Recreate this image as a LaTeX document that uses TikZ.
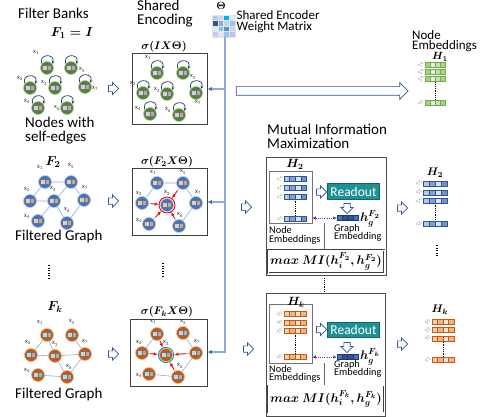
\documentclass[tikz,border=0pt]{standalone}
\usepackage{fix-cm}
\usepackage[no-math]{fontspec}
\setmainfont{Carlito}
\usepackage{amsmath}
\usetikzlibrary{arrows.meta,shapes.arrows,calc}
\definecolor{gfill}{HTML}{548235}
\definecolor{gdraw}{HTML}{A9D18E}
\definecolor{bfill}{HTML}{4472C4}
\definecolor{bdraw}{HTML}{B4C7E7}
\definecolor{ofill}{HTML}{C55A11}
\definecolor{odraw}{HTML}{F4B183}
\definecolor{edgec}{HTML}{8FAADC}
\definecolor{loopc}{HTML}{1F3864}
\definecolor{hblue}{HTML}{2F5597}
\definecolor{lblue}{HTML}{8FAADC}
\definecolor{ablue}{HTML}{4472C4}
\definecolor{tealc}{RGB}{30,145,148}
\definecolor{purp}{HTML}{7030A0}
\definecolor{eg1}{HTML}{A9D18E}\definecolor{eg2}{HTML}{E2F0D9}\definecolor{eg3}{HTML}{C5E0B4}\definecolor{egb}{HTML}{70AD47}
\definecolor{eb1}{HTML}{B4C7E7}\definecolor{eb2}{HTML}{7F9FD8}\definecolor{eb3}{HTML}{DAE3F3}\definecolor{eb4}{HTML}{6F92D2}\definecolor{ebb}{HTML}{2F5597}
\definecolor{eo1}{HTML}{F8CBAD}\definecolor{eo2}{HTML}{F4B183}\definecolor{eo3}{HTML}{FBE5D6}\definecolor{eob}{HTML}{C55A11}
\definecolor{ed1}{HTML}{2F5597}\definecolor{ed2}{HTML}{4472C4}\definecolor{edb}{HTML}{1F3864}
\definecolor{th1}{HTML}{B4C7E7}\definecolor{th2}{HTML}{BDD7EE}\definecolor{th3}{HTML}{00B0F0}\definecolor{th4}{HTML}{DEEBF7}
\definecolor{th5}{HTML}{2F5597}\definecolor{th6}{HTML}{8FAADC}\definecolor{th7}{HTML}{BDD7EE}\definecolor{th8}{HTML}{9DC3E6}
\definecolor{th9}{HTML}{DEEBF7}\definecolor{th10}{HTML}{6FD0E0}\definecolor{th11}{HTML}{5B8FD5}\definecolor{th12}{HTML}{BDD7EE}
\definecolor{th13}{HTML}{CACAF5}\definecolor{th14}{HTML}{DEEBF7}\definecolor{th15}{HTML}{9DC3E6}\definecolor{th16}{HTML}{B4C7E7}
\newcommand\fA{\fontsize{15}{16}\selectfont}
\newcommand\fB{\fontsize{13}{14}\selectfont}
\newcommand\fC{\fontsize{10.3}{11}\selectfont}
\newcounter{hlc}
\newcommand\embrow[5]{\foreach \cc [count=\ii from 0] in {#4}{\filldraw[fill=\cc,draw=#5,line width=0.35pt] ({#1+\ii*#3},{#2-2.6}) rectangle ({#1+(\ii+1)*#3},{#2+2.6});}}
\newcommand\embgrp[9]{%
 \stepcounter{hlc}%
 \embrow{#1}{#2}{#6}{#7}{#8}%
 \embrow{#1}{#3}{#6}{#7}{#8}%
 \embrow{#1}{#4}{#6}{#7}{#8}%
 \embrow{#1}{#5}{#6}{#7}{#8}%
 \node[hl] (hl\thehlc a) at ({#1-0.6},#2) {\scalebox{0.42}{$h_1^{#9}$}};
 \node[hl] (hl\thehlc b) at ({#1-0.6},#3) {\scalebox{0.42}{$h_2^{#9}$}};
 \node[hl] (hl\thehlc c) at ({#1-0.6},#4) {\scalebox{0.42}{$h_3^{#9}$}};
 \node[hl] (hl\thehlc d) at ({#1-0.6},#5) {\scalebox{0.42}{$h_n^{#9}$}};
 \draw[vd] ({#1+2*#6},{#4+3.5}) -- ({#1+2*#6},{#5-3.5});
}
\newcommand\gnodes[3]{\foreach \n/\x/\y/\lx/\ly in {#3} {\node[#2] (#1\n) at (\x,\y) {}; \node[xl] (#1l\n) at ({\x+\lx},{\y+\ly}) {x\textsubscript{\n}};}}
\begin{document}
\begin{tikzpicture}[x=1pt,y=-1pt,
  gnode/.style={circle,minimum size=13pt,inner sep=0pt,line width=0.6pt,
    path picture={
      \fill[black!55] ([shift={(-4.6pt,-2.7pt)}]path picture bounding box.center) rectangle ([shift={(4.6pt,2.7pt)}]path picture bounding box.center);
      \fill[black!18] ([shift={(-3.7pt,-1.8pt)}]path picture bounding box.center) rectangle ([shift={(-0.5pt,1.8pt)}]path picture bounding box.center);
      \fill[black!32] ([shift={(0.5pt,-1.8pt)}]path picture bounding box.center) rectangle ([shift={(3.7pt,1.8pt)}]path picture bounding box.center);}},
  gn/.style={gnode,fill=gfill,draw=gdraw},
  bn/.style={gnode,fill=bfill,draw=bdraw},
  on/.style={gnode,fill=ofill,draw=odraw},
  xl/.style={font=\fontsize{6.5}{7}\selectfont,inner sep=0pt,text=black!80},
  hl/.style={font=\fontsize{8}{8}\selectfont,anchor=east,inner sep=0pt,text=black!75},
  vd/.style={draw=black,line width=0.9pt,dash pattern=on 0.9pt off 0.9pt},
  bigdots/.style={draw=black,line width=1.2pt,dash pattern=on 1.2pt off 1.3pt},
  ed/.style={draw=edgec,line width=0.6pt},
  lp/.style={draw=loopc,line width=0.7pt,-{Stealth[length=2.8pt,width=3pt]}},
  redarr/.style={draw=red,line width=0.8pt,-{Latex[length=3.5pt,width=3.5pt]}},
  harr/.style={single arrow,draw=hblue,fill=white,line width=0.7pt,minimum height=10pt,inner sep=2.8pt,single arrow head extend=3pt},
  bigarr/.style={harr,minimum height=172pt,inner sep=4pt,single arrow head extend=4pt},
  sbox/.style={draw=black!75,line width=0.9pt,inner sep=0pt},
  mibox/.style={draw=black!70,line width=0.8pt,inner sep=0pt},
  nebox/.style={draw=black!55,line width=0.8pt,inner sep=0pt},
  readout/.style={fill=tealc,draw=tealc!70!black,line width=0.5pt,text=white,font=\fontsize{13.5}{14}\selectfont,inner sep=0pt},
  maxmi/.style={draw=black!75,line width=0.5pt,double=white,double distance=0.9pt,inner sep=0pt,font=\fontsize{12.5}{13}\selectfont},
  bl/.style={draw=lblue,line width=1.2pt},
  blarr/.style={bl,-{Latex[length=4.5pt,width=4.5pt,color=ablue]}},
  purpl/.style={draw=purp,line width=1pt,dash pattern=on 1pt off 1.2pt,{Latex[length=3.5pt,width=3.5pt]}-{Latex[length=3.5pt,width=3.5pt]}},
  sepl/.style={draw=black!60,line width=0.7pt},
  tx/.style={anchor=base west,inner sep=0pt},
  mt/.style={inner sep=0pt}
]
\useasboundingbox (0,0) rectangle (487,417);
% ---------- titles
\node[tx,font=\fA] (tfb) at (18,18.5) {Filter Banks};
\node[mt,font=\fontsize{13}{13}\selectfont] (tf1) at (72,33) {$\boldsymbol{F_1=I}$};
\node[tx,font=\fA] (tnw1) at (25,128) {Nodes with};
\node[tx,font=\fA] (tnw2) at (25,141.5) {self-edges};
\node[mt,font=\fontsize{13}{13}\selectfont] (tf2) at (53,162) {$\boldsymbol{F_2}$};
\node[tx,font=\fA] (tfg2) at (15,240) {Filtered Graph};
\node[mt,font=\fontsize{13}{13}\selectfont] (tfk) at (55,307) {$\boldsymbol{F_k}$};
\node[tx,font=\fA] (tfgk) at (15,398) {Filtered Graph};
\node[tx,font=\fA] (tse1) at (137,10.5) {Shared};
\node[tx,font=\fA] (tse2) at (137,25) {Encoding};
\node[mt,font=\fontsize{10.5}{11}\selectfont] (tth) at (221,6) {$\boldsymbol{\Theta}$};
\node[tx,font=\fB] (tsw1) at (236.5,20) {Shared Encoder};
\node[tx,font=\fB] (tsw2) at (236.5,31) {Weight Matrix};
\node[tx,font=\fA] (tmi1) at (267,135) {Mutual Information};
\node[tx,font=\fA] (tmi2) at (267,148.5) {Maximization};
\node[tx,font=\fB] (tne1) at (412,39.3) {Node};
\node[tx,font=\fB] (tne2) at (412,49.3) {Embeddings};
% ---------- theta matrix
\node[minimum width=23pt,minimum height=22pt,inner sep=0pt] (theta) at (223.5,26) {};
\foreach \cc [count=\i from 0] in {th1,th2,th3,th4,th5,th6,th7,th8,th9,th10,th11,th12,th13,th14,th15,th16}{
  \pgfmathtruncatemacro\cx{mod(\i,4)}\pgfmathtruncatemacro\cy{floor(\i/4)}
  \filldraw[fill=\cc,draw=white!80!gray,line width=0.3pt] ({212+\cx*5.75},{15+\cy*5.5}) rectangle ++(5.75,5.5);}
% ---------- sigma boxes
\node[sbox,minimum width=75pt,minimum height=71pt] (box1) at (169.5,88.5) {};
\node[sbox,minimum width=75pt,minimum height=67pt] (box2) at (169.5,201.5) {};
\node[sbox,minimum width=77pt,minimum height=67pt] (box3) at (168.5,352.5) {};
\node[mt,font=\fontsize{11}{12}\selectfont] (sg1) at (164,47) {$\boldsymbol{\sigma(IX\Theta)}$};
\node[mt,font=\fontsize{11}{12}\selectfont] (sg2) at (167,162) {$\boldsymbol{\sigma(F_2X\Theta)}$};
\node[mt,font=\fontsize{11}{12}\selectfont] (sg3) at (167,312) {$\boldsymbol{\sigma(F_kX\Theta)}$};
% ---------- graphs
\gnodes{g}{gn}{1/47/68/-11/-16, 5/71/68/11/2, 2/30/88/-10/-10, 3/55/88/-11/-5, 7/85/87/10/1, 4/38/108/-11/-7, 6/67/108/-10/0}
\gnodes{h}{gn}{1/157/73/-9/-16, 5/183/73/10/4, 2/143/93/-10/-10, 3/167/94/-10/-4, 7/196/93/2/9, 4/150/114/-12/-6, 6/179/115/-11/-5}
\foreach \n in {1,...,7}{
  \draw[lp] (g\n.140) .. controls +(110:11pt) and +(70:11pt) .. (g\n.40);
  \draw[lp] (h\n.140) .. controls +(110:11pt) and +(70:11pt) .. (h\n.40);}
\gnodes{p}{bn}{1/45/182/-5/-15, 5/71/182/0/-16, 2/30/201/-3/-12, 3/54/201/-1/-12, 7/84/200/1/-13, 4/38/221/-11/-5, 6/67/223/0/-13}
\gnodes{q}{bn}{1/157/183/-4/-11, 5/183/183/0/-11, 2/142/203/-3/-10, 3/167/205/0/-12, 7/196/203/2/-11, 4/149/224/-10/-4, 6/179/226/1/-11}
\foreach \a in {p,q}{
  \draw[ed] (\a1)--(\a5) (\a1)--(\a2) (\a5)--(\a3) (\a5)--(\a7) (\a2)--(\a3) (\a3)--(\a4) (\a3)--(\a6) (\a6)--(\a7);}
\draw[red,line width=0.9pt] (q3) circle (8pt);
\foreach \n in {2,5,4,6}{\draw[redarr] ($(q\n)!0.36!(q3)$) -- ($(q3)!8.8pt!(q\n)$);}
\gnodes{r}{on}{1/47/335/-7/-13, 5/72/335/0/-13, 2/31/355/-3/-13, 3/55/356/0/-12, 7/85/354/0/-13, 4/38/375/-11/-5, 6/67/377/2/-10}
\gnodes{s}{on}{1/157/334/-4/-13, 5/183/333/0/-11, 2/142/353/-3/-11, 3/166/355/0/-12, 7/196/353/1/-12, 4/149/374/-10/1, 6/178/377/2/-11}
\foreach \a in {r,s}{
  \draw[ed] (\a1)--(\a2) (\a1)--(\a3) (\a2)--(\a3) (\a3)--(\a7) (\a5)--(\a7) (\a3)--(\a6) (\a4)--(\a6) (\a6)--(\a7);}
\draw[tealc,line width=0.9pt] (s3) circle (7.6pt);
\foreach \n in {1,2,7,6}{\draw[redarr] ($(s\n)!0.33!(s3)$) -- ($(s3)!8.8pt!(s\n)$);}
% ---------- dots
\draw[bigdots] (49,265) -- (49,278);
\draw[bigdots] (163,263) -- (163,277);
\draw[bigdots] (437,245) -- (437,257);
% ---------- hollow arrows
\node[harr] (a11) at (112,88.5) {};
\node[harr] (a12) at (112,201) {};
\node[harr] (a13) at (112,354) {};
\node[harr] (a22) at (245,207) {};
\node[harr] (a23) at (247,349) {};
\node[harr] (a32) at (401,208) {};
\node[harr] (a33) at (401,344) {};
\node[bigarr] (bigA) at (320,91) {};
% ---------- shared encoder line
\coordinate (v1) at (225,89);
\coordinate (v2) at (225,202);
\coordinate (v3) at (225,352);
\draw[blarr] (theta.south -| v1) -- (v3) -- (v3 -| box3.east);
\draw[blarr] (v1) -- (v1 -| box1.east);
\draw[blarr] (v2) -- (v2 -| box2.east);
% ---------- MI box 2
\node[mibox,minimum width=120pt,minimum height=118pt] (mi2) at (326,216) {};
\node[nebox,minimum width=43pt,minimum height=52pt] (ne2) at (290.5,197) {};
\node[readout,minimum width=52pt,minimum height=16pt] (ro2) at (353.5,191.5) {Readout};
\node[maxmi,minimum width=116pt,minimum height=23pt] (mm2) at (326,261.5) {$\boldsymbol{max\ MI(h_i^{F_2},h_g^{F_2})}$};
\node[mt,font=\fontsize{12}{12}\selectfont] (th2) at (295,164) {$\boldsymbol{H_2}$};
\embgrp{284}{179}{188}{197}{219}{5.6}{eb1,eb2,eb3,eb4}{ebb}{F_2}
\node[harr] (ra2) at (320,192) {};
\node[harr,shape border rotate=270] (da2) at (347,207) {};
\node[minimum width=21pt,minimum height=5pt,inner sep=0pt] (ge2) at (347.5,218) {};
\embrow{337}{218}{5.25}{ed2,ed1,ed1,ed2}{edb}
\node[mt,font=\fontsize{12.5}{13}\selectfont] (hg2) at (370,219) {$\boldsymbol{h_g^{F_2}}$};
\draw[purpl] (ne2.east |- ge2) -- (ge2.west);
\node[tx,font=\fC] (nt2a) at (269,233.5) {Node};
\node[tx,font=\fC] (nt2b) at (269,242) {Embeddings};
\node[tx,font=\fC] (gt2a) at (334,231.5) {Graph};
\node[tx,font=\fC] (gt2b) at (334,239.5) {Embedding};
\coordinate (sp2) at (324,223);
\draw[sepl] (sp2) -- (sp2 |- mm2.north);
% ---------- MI box k
\node[mibox,minimum width=119pt,minimum height=123pt] (mik) at (325.5,354.5) {};
\node[nebox,minimum width=43pt,minimum height=59pt] (nek) at (290.5,333.5) {};
\node[readout,minimum width=52pt,minimum height=15pt] (rok) at (353.5,330) {Readout};
\node[maxmi,minimum width=116pt,minimum height=27pt] (mmk) at (326,399) {$\boldsymbol{max\ MI(h_i^{F_k},h_g^{F_k})}$};
\node[mt,font=\fontsize{12}{12}\selectfont] (thk) at (296,302) {$\boldsymbol{H_k}$};
\embgrp{284}{314}{322.7}{331}{356.7}{5.5}{eo1,eo2,eo3,eo2}{eob}{F_k}
\node[harr] (rak) at (320,329.5) {};
\node[harr,shape border rotate=270] (dak) at (347,346) {};
\node[minimum width=21pt,minimum height=5pt,inner sep=0pt] (gek) at (347.5,357) {};
\embrow{337}{357}{5.25}{ed2,ed1,ed1,ed2}{edb}
\node[mt,font=\fontsize{12.5}{13}\selectfont] (hgk) at (370,357) {$\boldsymbol{h_g^{F_k}}$};
\draw[purpl] (nek.east |- gek) -- (gek.west);
\node[tx,font=\fC] (ntka) at (269,372) {Node};
\node[tx,font=\fC] (ntkb) at (269,380) {Embeddings};
\node[tx,font=\fC] (gtka) at (334,367) {Graph};
\node[tx,font=\fC] (gtkb) at (334,375) {Embedding};
\coordinate (spk) at (324,363);
\draw[sepl] (spk) -- (spk |- mmk.north);
\draw[bigdots,line width=0.9pt,dash pattern=on 0.9pt off 0.9pt] ($(mi2.south -| sp2)+(0,3)$) -- ($(mik.north -| sp2)+(0,-1)$);
% ---------- right embeddings
\node[mt,font=\fontsize{10.5}{11}\selectfont] (rh1) at (440,57) {$\boldsymbol{H_1}$};
\embgrp{425}{65}{72}{79}{103}{5}{eg1,eg2,eg3,eg1}{egb}{F_1}
\node[mt,font=\fontsize{11}{11}\selectfont] (rh2) at (435,173) {$\boldsymbol{H_2}$};
\embgrp{423}{183.3}{192.3}{201}{224}{6}{eb1,eb2,eb3,eb4}{ebb}{F_2}
\node[mt,font=\fontsize{11}{11}\selectfont] (rhk) at (440,310) {$\boldsymbol{H_k}$};
\embgrp{432}{322}{330}{338.3}{360}{5.5}{eo1,eo2,eo3,eo2}{eob}{F_k}
\end{tikzpicture}
\end{document}
